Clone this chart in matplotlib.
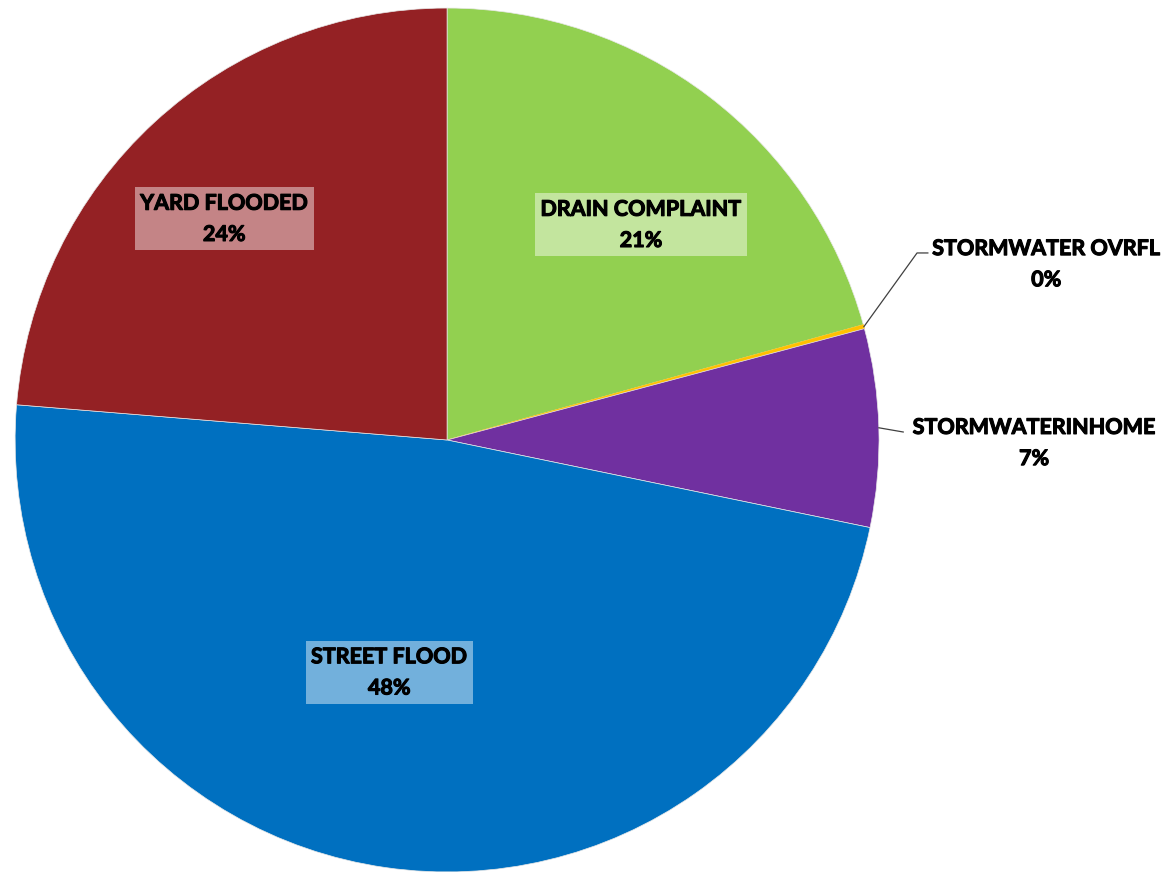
import numpy as np
import matplotlib
matplotlib.use('Agg')
from matplotlib import pyplot as plt
import matplotlib.patheffects as pe

plt.rcParams['font.family'] = ['Lato', 'DejaVu Sans']

# share of complaints by type, clockwise from 12 o'clock
categories = ['DRAIN COMPLAINT', 'STORMWATER OVRFL', 'STORMWATERINHOME', 'STREET FLOOD', 'YARD FLOODED']
shares = [20.7, 0.15, 7.4, 48.05, 23.7]
colors = ['#92D050', '#FFC000', '#7030A0', '#0070C0', '#942124']

fig = plt.figure(figsize=(11.68, 8.72), dpi=100)
ax = fig.add_axes([0, 0, 1, 1])

wedges, _ = ax.pie(shares, colors=colors, startangle=90, counterclock=False,
                   radius=1.0, wedgeprops=dict(linewidth=0.5, edgecolor='#e8e8e8'))
wedges[1].set_edgecolor('#FFC000')
ax.set_xlim(-1.035, 1.669)
ax.set_ylim(-1.0, 1.0185)
ax.set_aspect('equal')
ax.axis('off')

pct = [f'{round(v / sum(shares) * 100):.0f}%' for v in shares]
bold = [pe.withStroke(linewidth=0.8, foreground='black')]
style = dict(ha='center', va='center', fontsize=15.5, fontweight='bold',
             color='black', linespacing=1.6, path_effects=bold)

# labels inside the big slices, with a light box over the slice colour
inside = {0: (0.449, 0.498), 3: (-0.134, -0.538), 4: (-0.516, 0.512)}
for i, (x, y) in inside.items():
    ax.text(x, y, categories[i] + '\n' + pct[i],
            bbox=dict(boxstyle='square,pad=0.25', facecolor='white', alpha=0.45,
                      edgecolor='none'), **style)

# small slices get labels outside with leader lines
def rim_point(i):
    frac = (sum(shares[:i]) + shares[i] / 2) / sum(shares)
    a = np.deg2rad(90 - 360 * frac)
    return np.cos(a), np.sin(a)

x0, y0 = rim_point(1)
ax.plot([x0, 1.088, 1.113], [y0, 0.433, 0.433], color='#404040', lw=0.9)
ax.text(1.387, 0.407, categories[1] + '\n' + pct[1], **style)

x0, y0 = rim_point(2)
ax.plot([x0, 1.056], [y0, 0.0185], color='#404040', lw=0.9)
ax.text(1.359, -0.007, categories[2] + '\n' + pct[2], **style)

fig.savefig('out.png', dpi=100)
